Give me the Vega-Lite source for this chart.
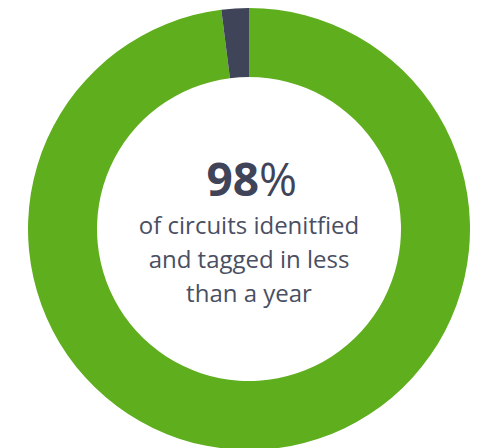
{
  "$schema": "https://vega.github.io/schema/vega-lite/v6.json",
  "width": 484,
  "height": 440,
  "padding": {"left": 7, "top": 8, "right": 0, "bottom": 0},
  "background": "white",
  "config": {"view": {"stroke": null}},
  "layer": [
    {
      "data": {"values": [
        {"category": "Identified in less than a year", "value": 98, "order": 1},
        {"category": "Other", "value": 2, "order": 2}
      ]},
      "mark": {"type": "arc", "outerRadius": 221, "innerRadius": 152},
      "encoding": {
        "theta": {"field": "value", "type": "quantitative", "stack": true},
        "order": {"field": "order", "type": "quantitative"},
        "color": {
          "field": "category", "type": "nominal", "legend": null,
          "scale": {"domain": ["Identified in less than a year", "Other"], "range": ["#5fae1e", "#3f4459"]}
        }
      }
    },
    {
      "data": {"values": [{"t": "98"}]},
      "mark": {"type": "text", "font": "Open Sans", "fontSize": 46, "fontWeight": "bold", "color": "#3f4459", "align": "right", "baseline": "alphabetic", "dx": 10, "dy": -33},
      "encoding": {"text": {"field": "t"}}
    },
    {
      "data": {"values": [{"t": "%"}]},
      "mark": {"type": "text", "font": "Open Sans", "fontSize": 46, "fontWeight": "normal", "color": "#3f4459", "align": "left", "baseline": "alphabetic", "dx": 10, "dy": -33},
      "encoding": {"text": {"field": "t"}}
    },
    {
      "data": {"values": [{"t": "of circuits idenitfied\nand tagged in less\nthan a year"}]},
      "mark": {"type": "text", "font": "Open Sans", "fontSize": 24, "color": "#4a4f63", "align": "center", "baseline": "alphabetic", "lineBreak": "\n", "lineHeight": 34, "dy": 5},
      "encoding": {"text": {"field": "t"}}
    }
  ]
}
